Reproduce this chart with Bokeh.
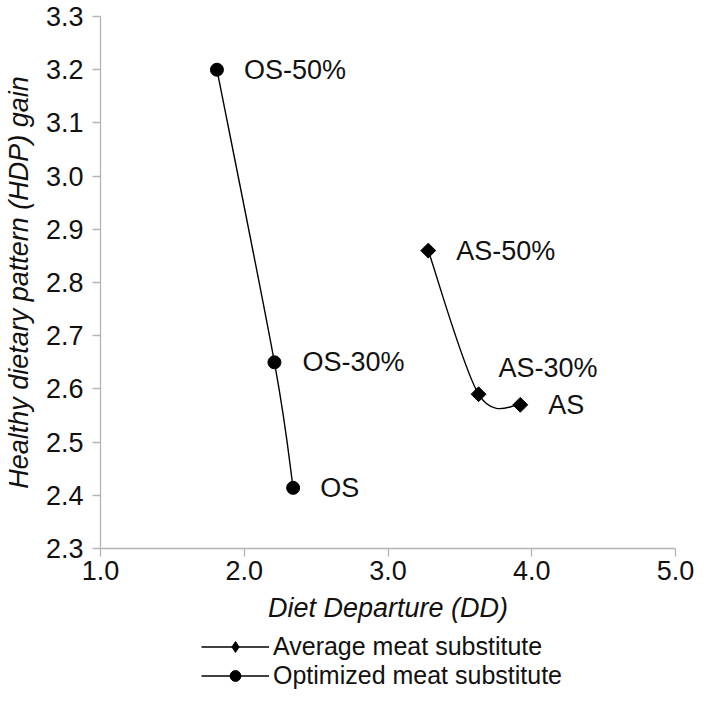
import numpy as np
from bokeh.plotting import figure
from bokeh.layouts import column
from bokeh.models import (Legend, LegendItem, ColumnDataSource, Range1d,
                          FixedTicker, PrintfTickFormatter)
from bokeh.core.properties import value
from bokeh.embed import file_html
from bokeh.resources import INLINE

# ---------------- data ----------------
as_labels = ["AS", "AS-30%", "AS-50%"]
as_dd = [3.92, 3.63, 3.28]
as_hdp = [2.57, 2.59, 2.86]

os_labels = ["OS", "OS-30%", "OS-50%"]
os_dd = [2.34, 2.21, 1.81]
os_hdp = [2.414, 2.65, 3.20]

x_ticks = [1.0, 2.0, 3.0, 4.0, 5.0]
y_ticks = [2.3, 2.4, 2.5, 2.6, 2.7, 2.8, 2.9, 3.0, 3.1, 3.2, 3.3]

series_names = ["Average meat substitute", "Optimized meat substitute"]

# label placement (screen px), style only
as_label_dx = [28, 20, 28]
as_label_dy = [0, -26, 0]
os_label_dx = [27, 28, 27]
os_label_dy = [0, 0, 0]

FONT = "Liberation Sans"
TXT = "#111111"
AX = "#b4b4b4"
W = 694
BL, BR = 96, 19


def smooth_segments(xs, ys):
    """Catmull-Rom style cubic Bezier control points (Excel-like smoothing)."""
    P = np.column_stack([xs, ys]).astype(float)
    n = len(P)
    out = {k: [] for k in ["x0", "y0", "x1", "y1", "cx0", "cy0", "cx1", "cy1"]}
    for i in range(n - 1):
        pm = P[max(i - 1, 0)]
        p0 = P[i]
        p1 = P[i + 1]
        pp = P[min(i + 2, n - 1)]
        c0 = p0 + (p1 - pm) / 6.0
        c1 = p1 - (pp - p0) / 6.0
        out["x0"].append(p0[0]); out["y0"].append(p0[1])
        out["x1"].append(p1[0]); out["y1"].append(p1[1])
        out["cx0"].append(c0[0]); out["cy0"].append(c0[1])
        out["cx1"].append(c1[0]); out["cy1"].append(c1[1])
    return out


# ---------------- main chart ----------------
p = figure(width=W, height=631,
           x_range=Range1d(1.0, 5.0), y_range=Range1d(2.3, 3.3),
           output_backend="svg", toolbar_location=None,
           min_border_left=BL, min_border_right=BR,
           min_border_top=16, min_border_bottom=83)
p.background_fill_color = "white"
p.border_fill_color = "white"
p.outline_line_color = None
p.xgrid.visible = False
p.ygrid.visible = False

for ax in (p.xaxis[0], p.yaxis[0]):
    ax.axis_line_color = AX
    ax.axis_line_width = 1.3
    ax.major_tick_line_color = AX
    ax.major_tick_line_width = 1.3
    ax.major_tick_in = 0
    ax.major_tick_out = 8
    ax.minor_tick_line_color = None
    ax.major_label_text_font = FONT
    ax.major_label_text_font_size = "27px"
    ax.major_label_text_color = TXT
    ax.axis_label_text_font = FONT
    ax.axis_label_text_font_style = "italic"
    ax.axis_label_text_color = TXT
    ax.axis_label_text_font_size = "27px"
    ax.formatter = PrintfTickFormatter(format="%.1f")

p.xaxis[0].ticker = FixedTicker(ticks=x_ticks)
p.yaxis[0].ticker = FixedTicker(ticks=y_ticks)
p.xaxis[0].axis_label = "Diet Departure (DD)"
p.yaxis[0].axis_label = "Healthy dietary pattern (HDP) gain"
p.xaxis[0].major_label_standoff = 4
p.xaxis[0].axis_label_standoff = 10
p.yaxis[0].major_label_standoff = 9
p.yaxis[0].axis_label_standoff = 9

# smoothed connecting curves
as_seg = ColumnDataSource(smooth_segments(as_dd, as_hdp))
os_seg = ColumnDataSource(smooth_segments(os_dd, os_hdp))
p.bezier(x0="x0", y0="y0", x1="x1", y1="y1", cx0="cx0", cy0="cy0",
         cx1="cx1", cy1="cy1", source=as_seg, line_color="black", line_width=1.4)
p.bezier(x0="x0", y0="y0", x1="x1", y1="y1", cx0="cx0", cy0="cy0",
         cx1="cx1", cy1="cy1", source=os_seg, line_color="black", line_width=1.4)

as_src = ColumnDataSource(dict(x=as_dd, y=as_hdp, lab=as_labels, dx=as_label_dx, dy=as_label_dy))
os_src = ColumnDataSource(dict(x=os_dd, y=os_hdp, lab=os_labels, dx=os_label_dx, dy=os_label_dy))

p.scatter(x="x", y="y", source=as_src, marker="square", size=10.5,
          angle=np.pi / 4, fill_color="black", line_color="black")
p.scatter(x="x", y="y", source=os_src, marker="circle", size=13,
          fill_color="black", line_color="black")

for src in (as_src, os_src):
    p.text(x="x", y="y", text="lab", x_offset="dx", y_offset="dy", source=src,
           text_font=value(FONT), text_font_size=value("27px"), text_color=TXT,
           text_align="left", text_baseline="middle")

# ---------------- legend strip below the chart ----------------
# the series are drawn again here only as legend keys (outside this strip's view)
pl = figure(width=W, height=59, x_range=Range1d(0, 0.5), y_range=Range1d(0, 0.5),
            output_backend="svg", toolbar_location=None,
            x_axis_location=None, y_axis_location=None,
            min_border_left=BL, min_border_right=BR, min_border_top=0, min_border_bottom=0)
pl.outline_line_color = None
pl.xgrid.visible = False
pl.ygrid.visible = False
pl.background_fill_color = "white"
pl.border_fill_color = "white"

la = pl.line(x=as_dd, y=as_hdp, line_color="black", line_width=1.4)
ma = pl.scatter(x=as_dd, y=as_hdp, marker="diamond", size=12,
                fill_color="black", line_color="black")
lo = pl.line(x=os_dd, y=os_hdp, line_color="black", line_width=1.4)
mo = pl.scatter(x=os_dd, y=os_hdp, marker="circle", size=12,
                fill_color="black", line_color="black")

legend = Legend(items=[
    LegendItem(label=series_names[0], renderers=[la, ma]),
    LegendItem(label=series_names[1], renderers=[lo, mo]),
], location=(101, 0))
legend.label_text_font = FONT
legend.label_text_font_size = "25px"
legend.label_text_color = TXT
legend.glyph_width = 68
legend.glyph_height = 27
legend.label_height = 27
legend.label_standoff = 4
legend.spacing = 0
legend.padding = 0
legend.margin = 0
legend.border_line_color = None
legend.background_fill_alpha = 0
pl.add_layout(legend, "center")

layout = column(p, pl, spacing=0)
open("out.html", "w").write(file_html(layout, INLINE))
